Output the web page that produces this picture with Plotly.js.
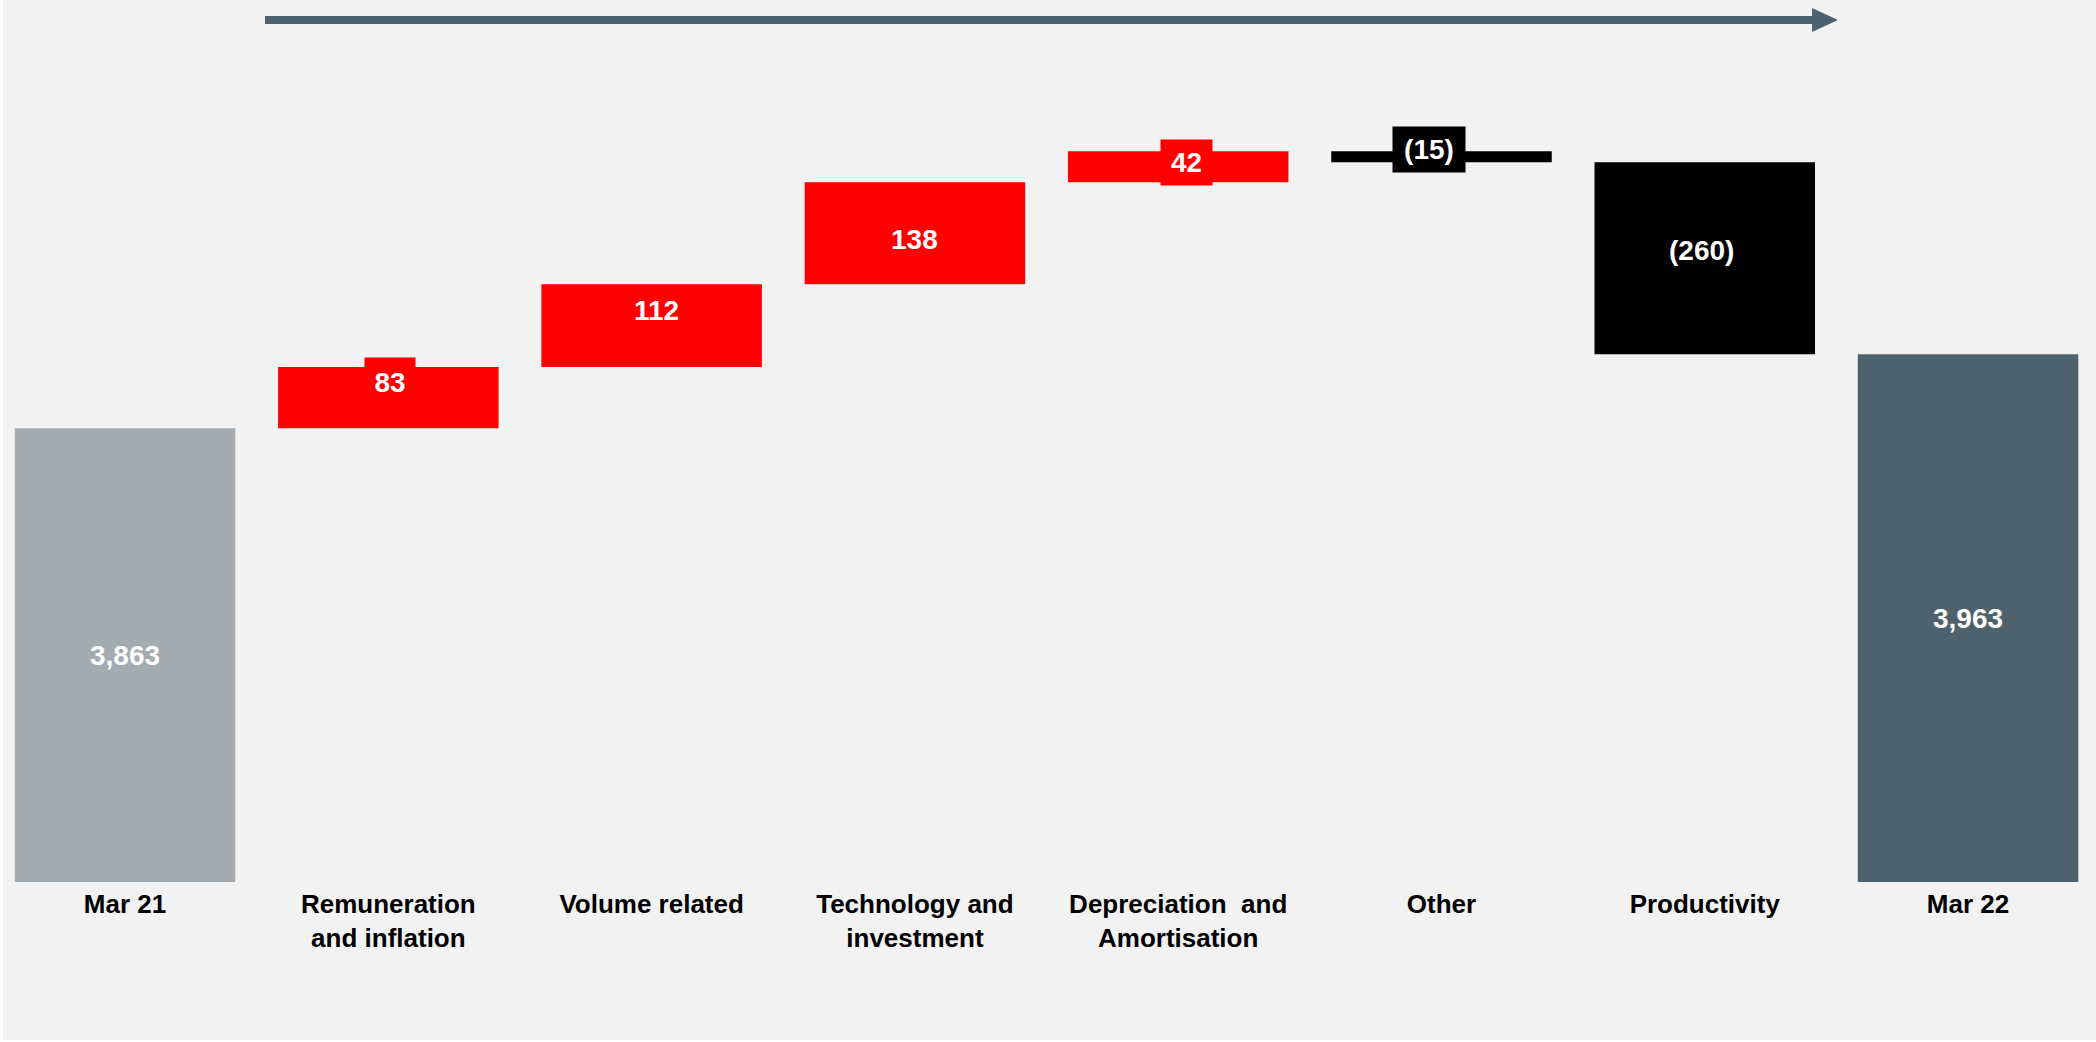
<!DOCTYPE html>
<html>
<head>
<meta charset="utf-8">
<script src="https://cdn.plot.ly/plotly-3.0.1.min.js"></script>
<style>html,body{margin:0;padding:0;background:#f2f2f2;}#chart{width:2096px;height:1042px;}</style>
</head>
<body>
<div id="chart"></div>
<script>
// ---- data ----
const categories = ["Mar 21", "Remuneration<br>and inflation", "Volume related", "Technology and<br>investment", "Depreciation\u00a0 and<br>Amortisation", "Other", "Productivity", "Mar 22"];
const values = [3863, 83, 112, 138, 42, -15, -260, 3963];
const measures = ["total", "delta", "delta", "delta", "delta", "delta", "delta", "total"];

// ---- derived waterfall geometry (from data) ----
const bases = [], heights = [], mids = [], labels = [];
let running = 0;
values.forEach((v, i) => {
  if (measures[i] === "total") {
    bases.push(0); heights.push(v); running = v;
    mids.push(null);
  } else {
    bases.push(running); heights.push(v);
    mids.push(running + v / 2);
    running += v;
  }
  const abs = Math.abs(v).toLocaleString("en-US");
  labels.push(v < 0 ? "(" + abs + ")" : abs);
});

const yMin = 3249, yMax = 4442.5;
// totals label at visible centre
values.forEach((v, i) => { if (measures[i] === "total") mids[i] = (yMin + v) / 2; });

const colors = values.map((v, i) => {
  if (measures[i] === "total") return i === 0 ? "#a4acb2" : "#4d626d";
  return v >= 0 ? "#ff0000" : "#000000";
});

// label styling offsets (px)
const labelShiftY = [0, 16, 15, -6, 4, 7, 8, 0];
const labelShiftX = [0, 2, 5, 0, 8, -12, -3, 0];
const boxW = [null, 48, null, null, 49, 70, null, null];
const boxH = [null, 46, null, null, 43, 43, null, null];

const annotations = categories.map((c, i) => {
  const a = {
    x: c, y: mids[i], xref: "x", yref: "y",
    text: labels[i], showarrow: false, yshift: labelShiftY[i], xshift: labelShiftX[i],
    font: {family: "Liberation Sans, Arial, sans-serif", size: 28, color: "#ffffff", weight: 700}
  };
  if (boxW[i]) { a.width = boxW[i]; a.height = boxH[i]; a.bgcolor = colors[i]; }
  return a;
});

const py = p => 1 - p / 882, px = p => p / 2096;

const layout = {
  width: 2096, height: 1042,
  margin: {l: 0, r: 0, t: 0, b: 160, pad: 0},
  paper_bgcolor: "#f2f2f2", plot_bgcolor: "#f2f2f2",
  showlegend: false,
  xaxis: {
    type: "category", range: [-0.475, 7.486],
    showgrid: false, zeroline: false, showline: false, ticks: "",
    ticklabelstandoff: 4,
    tickfont: {family: "Liberation Sans, Arial, sans-serif", size: 26, color: "#000000", weight: 700},
    fixedrange: true
  },
  yaxis: {range: [yMin, yMax], visible: false, fixedrange: true},
  annotations: annotations,
  shapes: [
    {type: "line", xref: "paper", yref: "paper", x0: px(265), x1: px(1816), y0: py(20), y1: py(20),
     line: {color: "#4d626d", width: 8}},
    {type: "path", xref: "paper", yref: "paper",
     path: `M ${px(1812)} ${py(8)} L ${px(1838)} ${py(20)} L ${px(1812)} ${py(32)} Z`,
     fillcolor: "#4d626d", line: {width: 0}},
    {type: "rect", xref: "paper", yref: "paper", x0: 0, x1: px(3), y0: py(1042), y1: py(0),
     fillcolor: "#ffffff", line: {width: 0}, layer: "above"},
    {type: "rect", xref: "paper", yref: "paper", x0: 0, x1: 1, y0: py(1042), y1: py(1040),
     fillcolor: "#ffffff", line: {width: 0}, layer: "above"}
  ]
};

const trace = {
  type: "bar", x: categories, y: heights, base: bases,
  width: 0.8375,
  marker: {color: colors, line: {width: 0}},
  hoverinfo: "skip"
};

Plotly.newPlot("chart", [trace], layout, {displayModeBar: false, staticPlot: true});
</script>
</body>
</html>
